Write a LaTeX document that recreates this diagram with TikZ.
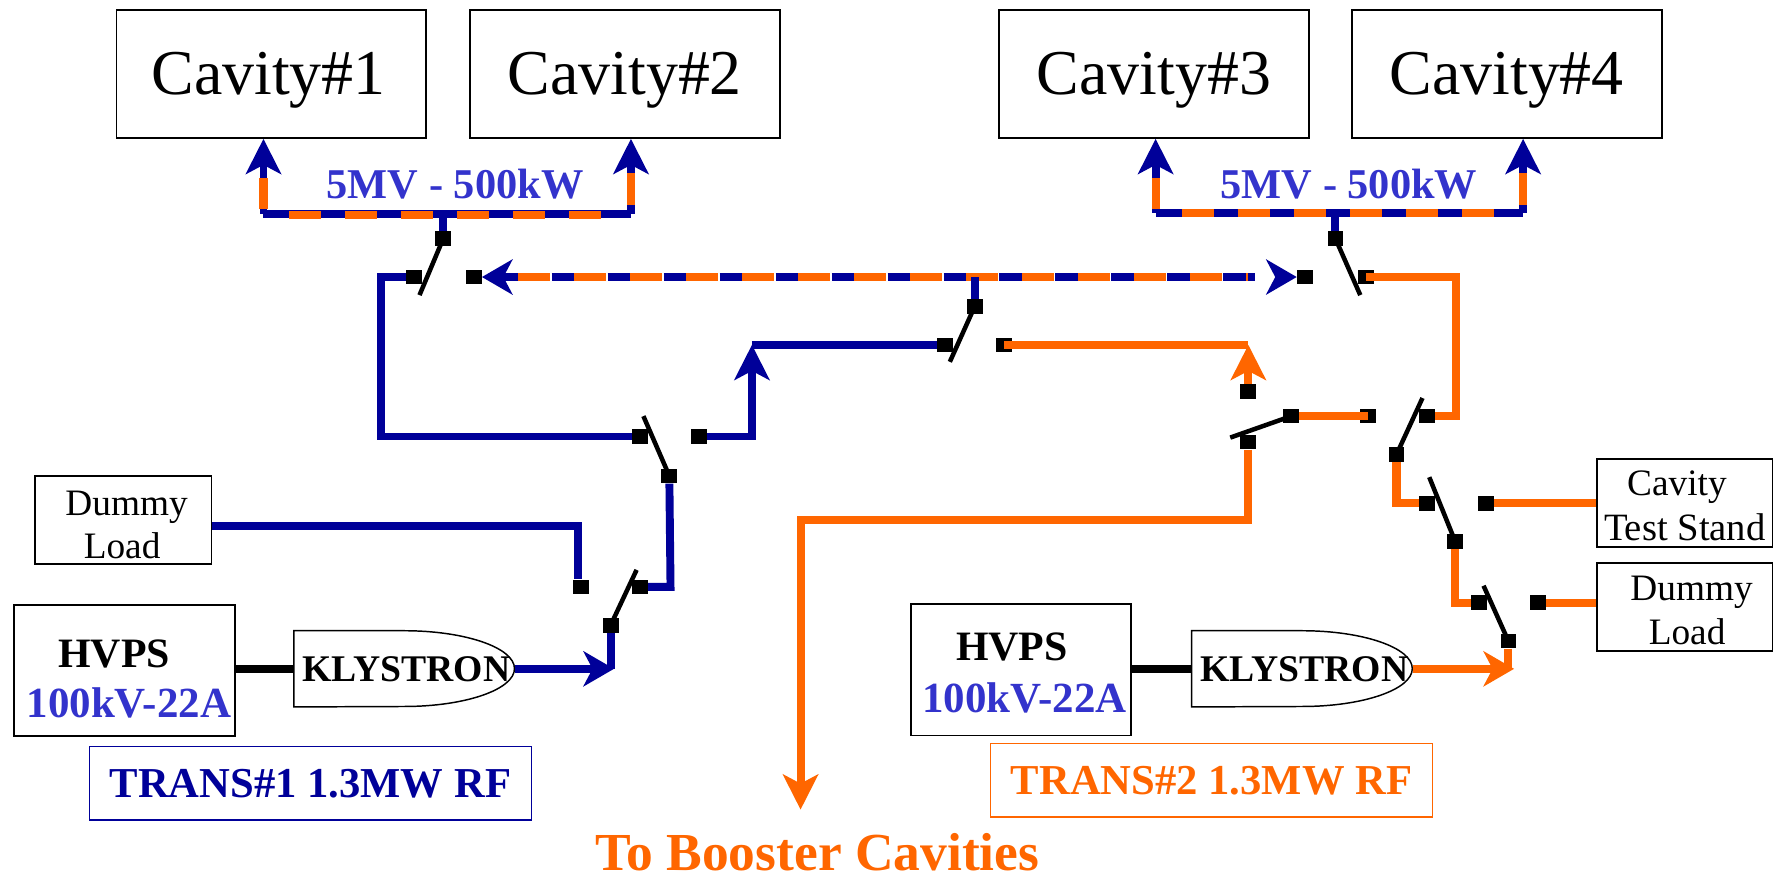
\documentclass[tikz,border=0pt]{standalone}
\usepackage{fontspec}
\setmainfont{Liberation Serif}
\usetikzlibrary{arrows.meta}
\definecolor{wireblue}{HTML}{000099}
\definecolor{wireorange}{HTML}{FF6600}
\definecolor{textblue}{HTML}{3333CC}
\tikzset{
  boxnode/.style  = {draw, line width=1.6pt, inner sep=0pt, align=center},
  cavity/.style   = {boxnode, minimum width=274pt, minimum height=113pt, text height=37pt, text depth=0pt,
                     font=\fontsize{56.5}{60}\selectfont},
  loadbox/.style  = {boxnode, minimum width=156pt, minimum height=78pt},
  loadtext/.style = {inner sep=0pt, font=\fontsize{33}{38}\selectfont},
  hvpsbox/.style  = {boxnode, minimum width=195pt, minimum height=116pt},
  klystext/.style = {inner sep=0pt, minimum width=195pt, minimum height=67pt, text height=22pt, text depth=0pt,
                     font=\fontsize{33.3}{36}\selectfont\bfseries},
  klysline/.style = {line width=1.3pt},
  transbox/.style = {draw, line width=1.3pt, inner sep=0pt, minimum width=391pt, minimum height=65pt,
                     text height=25pt, text depth=0pt, font=\fontsize{37.7}{40}\selectfont\bfseries},
  bluetext/.style = {inner sep=0pt, text=textblue, font=\fontsize{38}{40}\selectfont\bfseries},
  ratetext/.style = {bluetext, font=\fontsize{37.5}{40}\selectfont\bfseries},
  blacktext/.style = {inner sep=0pt, font=\fontsize{37}{40}\selectfont\bfseries},
  contact/.style  = {fill=black, inner sep=0pt, minimum width=14pt, minimum height=13pt},
  blade/.style    = {line width=4pt},
  hvline/.style   = {line width=7pt},
  bluewire/.style = {line width=7pt, color=wireblue},
  orangewire/.style = {line width=7.2pt, color=wireorange},
  vtip/.style     = {-{Stealth[length=31pt, width=31pt, inset=8pt]}},  % up and down
  htip/.style     = {-{Stealth[length=27pt, width=31pt, inset=8pt]}},  % sideways
  dashes/.style   = {dash pattern=on 28.3pt off 21.2pt},
}

\begin{document}
\begin{tikzpicture}[x=1pt, y=-1pt]
  \useasboundingbox (0,0) rectangle (1568,775);

  \node[cavity]  at ( 240, 65.5) (cav1)  {\hspace*{-5pt}Cavity\#1};
  \node[cavity]  at ( 552.5,65.5) (cav2)  {Cavity\#2};
  \node[cavity]  at (1020.5,65.5) (cav3)  {Cavity\#3};
  \node[cavity]  at (1332.5,65.5) (cav4)  {Cavity\#4};

  \node[loadbox] at ( 109,460)  (dummy1) {};
  \node[loadbox] at (1490,445)  (stand)  {};
  \node[loadbox] at (1490,537)  (dummy2) {};
  \node[loadtext] at ( 112,449) (dummy1a) {Dummy};
  \node[loadtext] at ( 108,483) (dummy1b) {Load};
  \node[loadtext] at (1483,431) (standa)  {Cavity};
  \node[loadtext, font=\fontsize{34.2}{38}\selectfont] at (1490,466) (standb) {Test Stand};
  \node[loadtext] at (1496,524) (dummy2a) {Dummy};
  \node[loadtext] at (1492,559) (dummy2b) {Load};

  \node[hvpsbox] at ( 110,593)  (hvps1)  {};
  \node[hvpsbox] at ( 903,592.5)(hvps2)  {};
  \node[blacktext] at ( 101,578) (hvpsa)  {HVPS};
  \node[bluetext]  at ( 114,622) (hvpsav) {100kV-22A};
  \node[blacktext] at ( 895,572) (hvpsb)  {HVPS};
  \node[bluetext]  at ( 906,617) (hvpsbv) {100kV-22A};

  \node[klystext] at ( 357.5,591.5) (klys1) {\hspace*{4pt}KLYSTRON};
  \node[klystext] at (1151.5,591.5) (klys2) {\hspace*{4pt}KLYSTRON};

  \node[transbox, draw=wireblue, text=wireblue]     at (274.5,692.5) (trans1) {TRANS\#1 1.3MW RF};
  \node[transbox, draw=wireorange, text=wireorange] at (1071.5,690) (trans2) {TRANS\#2 1.3MW RF};

  \node[inner sep=0pt, text=wireorange, font=\fontsize{47.3}{50}\selectfont\bfseries] at (723,754) (booster) {To Booster Cavities};
  \node[ratetext] at ( 402.5,163) (rating1) {5MV - 500kW};
  \node[ratetext] at (1193,163) (rating2) {5MV - 500kW};

  % switch contacts
  \node[contact] at ( 392,211) (swAc) {};
  \node[contact] at ( 366,245) (swAl) {};
  \node[contact] at ( 419,245) (swAr) {};
  \node[contact] at (1181,211) (swBc) {};
  \node[contact] at (1154,245) (swBl) {};
  \node[contact] at (1208,245) (swBr) {};
  \node[contact] at ( 862,271) (swCc) {};
  \node[contact] at ( 836,305) (swCl) {};
  \node[contact] at ( 888,305) (swCr) {};
  \node[contact] at ( 592,421) (swDc) {};
  \node[contact] at ( 566,386) (swDl) {};
  \node[contact] at ( 618,386) (swDr) {};
  \node[contact] at ( 540,553) (swEc) {};
  \node[contact] at ( 514,519) (swEl) {};
  \node[contact] at ( 566,519) (swEr) {};
  \node[contact] at (1142,368) (swFc) {};
  \node[contact] at (1104,346) (swFt) {};
  \node[contact] at (1104,391) (swFb) {};
  \node[contact] at (1235,402) (swGc) {};
  \node[contact] at (1210,368) (swGl) {};
  \node[contact] at (1262,368) (swGr) {};
  \node[contact] at (1287,479) (swHc) {};
  \node[contact] at (1262,445) (swHl) {};
  \node[contact] at (1314,445) (swHr) {};
  \node[contact] at (1334,567) (swIc) {};
  \node[contact] at (1308,533) (swIl) {};
  \node[contact] at (1360,533) (swIr) {};

  \coordinate (bladeA) at ( 371,261);
  \coordinate (bladeB) at (1203,261);
  \coordinate (bladeC) at ( 840,320);
  \coordinate (bladeD) at ( 569,368);
  \coordinate (bladeE) at ( 563,504);
  \coordinate (bladeF) at (1088,387);
  \coordinate (bladeG) at (1258,352);
  \coordinate (bladeH) at (1264,422);
  \coordinate (bladeI) at (1312,518);
  \draw[blade] (swAc.center) -- (bladeA);
  \draw[blade] (swBc.center) -- (bladeB);
  \draw[blade] (swCc.center) -- (bladeC);
  \draw[blade] (swDc.center) -- (bladeD);
  \draw[blade] (swEc.center) -- (bladeE);
  \draw[blade] (swFc.center) -- (bladeF);
  \draw[blade] (swGc.center) -- (bladeG);
  \draw[blade] (swHc.center) -- (bladeH);
  \draw[blade] (swIc.center) -- (bladeI);

  % klystron outlines
  \draw[klysline] (klys1.north west) -- (klys1.north) arc[start angle=-90, end angle=90, x radius=97.5, y radius=33.5] -- (klys1.south west) -- cycle;
  \draw[klysline] (klys2.north west) -- (klys2.north) arc[start angle=-90, end angle=90, x radius=97.5, y radius=33.5] -- (klys2.south west) -- cycle;
  \draw[hvline] (hvps1.east |- klys1.west) -- (klys1.west);
  \draw[hvline] (hvps2.east |- klys2.west) -- (klys2.west);

  % 5MV buses
  \coordinate (busAl) at ( 233,189);
  \coordinate (busAr) at ( 558,189);
  \coordinate (busBl) at (1022,188);
  \coordinate (busBr) at (1347,188);
  \draw[bluewire] (busAl) -- (busAr);
  \draw[bluewire] (busBl) -- (busBr);
  \draw[bluewire] (swAc.north) |- (busAl);
  \draw[bluewire] (swBc.north) |- (busBl);
  \draw[bluewire, vtip] (busAl) -- (busAl |- cav1.south);
  \draw[bluewire, vtip] (busAr) -- (busAr |- cav2.south);
  \draw[bluewire, vtip] (busBl) -- (busBl |- cav3.south);
  \draw[bluewire, vtip] (busBr) -- (busBr |- cav4.south);

  \coordinate (dashAl) at ( 256,190);
  \coordinate (dashAr) at ( 532,190);
  \coordinate (dashBl) at (1045,188);
  \coordinate (dashBr) at (1321,188);
  \draw[orangewire, dashes] (dashAl) -- (dashAr);
  \draw[orangewire, dashes] (dashBl) -- (dashBr);
  \draw[orangewire] (233,185) -- (233,157);
  \draw[orangewire] (558,181) -- (558,153);
  \draw[orangewire] (1022,185) -- (1022,157);
  \draw[orangewire] (1347,181) -- (1347,153);

  % transfer line between the two halves
  \coordinate (lineL) at ( 458.3,245);
  \coordinate (lineR) at (1104,245);
  \draw[bluewire, {Stealth[length=27pt, width=31pt, inset=8pt]}-{Stealth[length=27pt, width=31pt, inset=8pt]}, dash pattern=on 28.3pt off 21.2pt, dash phase=5.3pt] (swAr.east) -- (swBl.west);
  \draw[orangewire, dashes] (lineL) -- (lineR);
  \draw[bluewire] (swCc.north) -- (swCc.north |- lineL);

  % transmitter 1
  \draw[bluewire, htip] (klys1.east) -- (543,591.5);
  \draw[bluewire] (swEc.south) -- (540,592);
  \draw[bluewire] (dummy1.east |- 0,465) -- (511,465) -- (511,512);
  \draw[bluewire] (swEr.east) -- (593,519) -- (swDc.south);
  \draw[bluewire] (swDl.west) -- (337,386) -- (337,245) -- (swAl.west);
  \draw[bluewire, vtip] (swDr.east) -- (665,386) -- (665,305);
  \draw[bluewire] (665,305) -- (swCl.west);

  % transmitter 2
  \draw[orangewire, htip] (klys2.east) -- (1339,591.5);
  \draw[orangewire] (swIc.south) -- (1334,592);
  \draw[orangewire] (swIl.west) -- (1287,533) -- (swHc.south);
  \draw[orangewire] (swHl.west) -- (1235,445) -- (swGc.south);
  \draw[orangewire] (swHr.east) -- (stand.west |- swHr);
  \draw[orangewire] (swIr.east) -- (dummy2.west |- swIr);
  \draw[orangewire] (swGr.east) -- (1288,368) -- (1288,245) -- (swBr.center);
  \draw[orangewire] (swFc.east) -- (swGl.center);
  \draw[orangewire, vtip] (swFb.south) -- (1104,460) -- (708,460) -- (708,716);
  \draw[orangewire, vtip] (swFt.north) -- (1104,305);
  \draw[orangewire] (swCr.center) -- (1104,305);
\end{tikzpicture}
\end{document}
